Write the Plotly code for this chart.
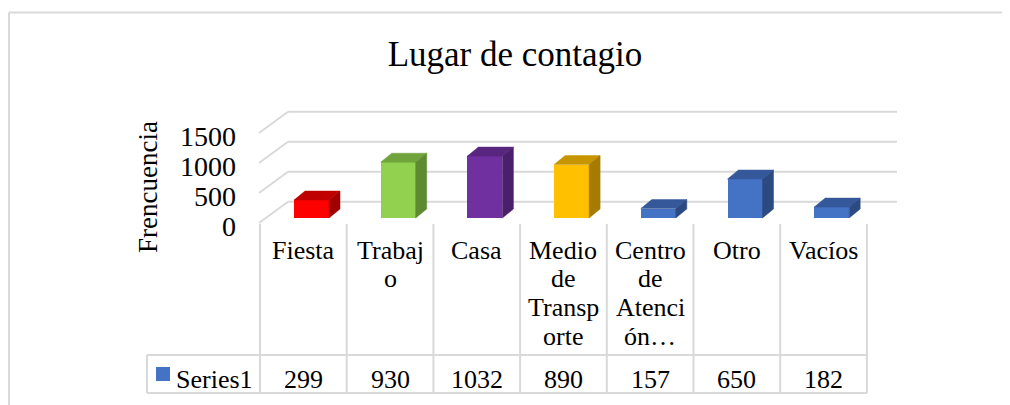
import plotly.graph_objects as go

# ---------------- data ----------------
chart_title = "Lugar de contagio"
axis_title = "Frencuencia"
series_name = "Series1"
categories = ["Fiesta", "Trabajo", "Casa", "Medio de Transporte",
              "Centro de Atención…", "Otro", "Vacíos"]
category_lines = [["Fiesta"], ["Trabaj", "o"], ["Casa"],
                  ["Medio", "de", "Transp", "orte"],
                  ["Centro", "de", "Atenci", "ón…"], ["Otro"], ["Vacíos"]]
values = [299, 930, 1032, 890, 157, 650, 182]
tick_values = [0, 500, 1000, 1500]

# ---------------- styles ----------------
front_colors = ["#FF0000", "#92D050", "#7030A0", "#FFC000", "#4472C4", "#4472C4", "#4472C4"]
top_colors = ["#C00000", "#70A33C", "#58257F", "#C79500", "#34589A", "#34589A", "#34589A"]
side_colors = ["#A30000", "#5E8A31", "#4A1F6B", "#A67C00", "#2C4A82", "#2C4A82", "#2C4A82"]
grid_color = "#D9D9D9"
FONT = "Liberation Serif"

# page geometry (the page body has an 8px margin)
OFF = 8
PAGE_W, PAGE_H = 1010, 405
W, H = PAGE_W - OFF, PAGE_H - OFF

COL_LEFT0 = 260.0        # page px, left edge of first column
COL_W = 86.7             # px per category
CX0 = COL_LEFT0 + COL_W / 2
Y0 = 223.0               # page px of value 0 on the front plane
S = 0.06                 # px per unit


def xd(px):
    return (px - CX0) / COL_W


def yd(py):
    return (Y0 - py) / S


def pxp(px):
    return (px - OFF) / W


def pyp(py):
    return 1 - (py - OFF) / H


BASE = yd(218.0)                 # bar base (mid depth)
BAR_OFF = (34 + 17.5 - COL_W / 2) / COL_W
BAR_W = 35 / COL_W
DDX = 11 / COL_W
DDY = 9 / S
WALL_DY = (223.0 - 201.7) / S
WALL_FRONT_X = xd(259)
WALL_BACK_X = xd(288)
WALL_RIGHT_X = xd(897)

fig = go.Figure()
shapes = []
line_style = dict(color=grid_color, width=2)

# back wall / side wall gridlines (below the bars)
for v in tick_values:
    shapes.append(dict(type="line", xref="x", yref="y", layer="below",
                       x0=WALL_FRONT_X, x1=WALL_BACK_X, y0=v, y1=v + WALL_DY, line=line_style))
    shapes.append(dict(type="line", xref="x", yref="y", layer="below",
                       x0=WALL_BACK_X, x1=WALL_RIGHT_X, y0=v + WALL_DY, y1=v + WALL_DY,
                       line=line_style))

xs = list(range(len(categories)))

# front faces
fig.add_trace(go.Bar(x=[i + BAR_OFF for i in xs], y=values, base=BASE,
                     width=BAR_W, marker=dict(color=front_colors, line=dict(width=0)),
                     name=series_name, showlegend=False,
                     hovertext=categories, hoverinfo="text+y"))

# top and side faces
for i, v in zip(xs, values):
    xl = i + BAR_OFF - BAR_W / 2
    xr = i + BAR_OFF + BAR_W / 2
    top = BASE + v
    fig.add_trace(go.Scatter(
        x=[xl, xr, xr + DDX, xl + DDX, xl],
        y=[top, top, top + DDY, top + DDY, top],
        fill="toself", fillcolor=top_colors[i], mode="lines",
        line=dict(color=top_colors[i], width=0.5),
        hoverinfo="skip", showlegend=False))
    fig.add_trace(go.Scatter(
        x=[xr, xr + DDX, xr + DDX, xr, xr],
        y=[BASE, BASE + DDY, top + DDY, top, BASE],
        fill="toself", fillcolor=side_colors[i], mode="lines",
        line=dict(color=side_colors[i], width=0.5),
        hoverinfo="skip", showlegend=False))

# outer chart border (left & top)
shapes.append(dict(type="line", xref="paper", yref="paper",
                   x0=pxp(9), x1=1, y0=pyp(12.5), y1=pyp(12.5), line=line_style))
shapes.append(dict(type="line", xref="paper", yref="paper",
                   x0=pxp(9), x1=pxp(9), y0=0, y1=pyp(12.5), line=line_style))
# data table verticals
for k in range(len(categories) + 1):
    shapes.append(dict(type="line", xref="x", yref="y",
                       x0=k - 0.5, x1=k - 0.5, y0=yd(224), y1=yd(393), line=line_style))
# data table horizontals & legend cell
TABLE_LEFT = xd(147)
for py in (355, 393):
    shapes.append(dict(type="line", xref="x", yref="y",
                       x0=TABLE_LEFT, x1=len(categories) - 0.5, y0=yd(py), y1=yd(py),
                       line=line_style))
shapes.append(dict(type="line", xref="x", yref="y",
                   x0=TABLE_LEFT, x1=TABLE_LEFT, y0=yd(355), y1=yd(393), line=line_style))
# legend key
shapes.append(dict(type="rect", xref="x", yref="y",
                   x0=xd(156), x1=xd(170), y0=yd(367), y1=yd(381),
                   fillcolor="#4472C4", line=dict(width=0)))

annotations = []
TXT = 26
LINE_SP = 28.7
FIRST_MID = 250.0
for i, lines in enumerate(category_lines):
    for j, t in enumerate(lines):
        annotations.append(dict(x=i, y=yd(FIRST_MID + j * LINE_SP), xref="x", yref="y",
                                text=t, showarrow=False, xanchor="center", yanchor="middle",
                                font=dict(family=FONT, size=TXT, color="#000000")))
for i, v in enumerate(values):
    annotations.append(dict(x=i, y=yd(379), xref="x", yref="y",
                            text=str(v), showarrow=False, xanchor="center", yanchor="middle",
                            font=dict(family=FONT, size=TXT, color="#000000")))
annotations.append(dict(x=xd(174), y=yd(379), xref="x", yref="y",
                        text=series_name, showarrow=False, xanchor="left", yanchor="middle",
                        font=dict(family=FONT, size=TXT, color="#000000")))
annotations.append(dict(x=pxp(148), y=pyp(187), xref="paper", yref="paper",
                        text=axis_title, showarrow=False, textangle=-90,
                        xanchor="center", yanchor="middle",
                        font=dict(family=FONT, size=27, color="#000000")))

fig.update_layout(
    width=W, height=H,
    margin=dict(l=0, r=0, t=0, b=0),
    paper_bgcolor="white", plot_bgcolor="white",
    showlegend=False,
    title=dict(text=chart_title, x=pxp(515), xanchor="center",
               y=pyp(54), yanchor="middle",
               font=dict(family=FONT, size=35, color="#000000")),
    xaxis=dict(range=[xd(OFF), xd(PAGE_W)], visible=False, fixedrange=True),
    yaxis=dict(range=[yd(PAGE_H), yd(OFF)], anchor="free", position=pxp(236),
               side="left", showgrid=False, zeroline=False, showline=False,
               ticks="", tickvals=tick_values, ticktext=[str(t) for t in tick_values],
               ticklabelshift=3,
               tickfont=dict(family=FONT, size=28, color="#000000"), fixedrange=True),
    shapes=shapes,
    annotations=annotations,
    bargap=0,
)

fig.write_html("out.html")
